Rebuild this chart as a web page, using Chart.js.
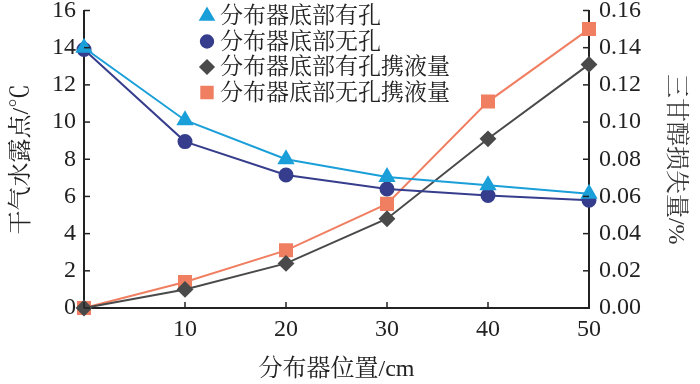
<!DOCTYPE html>
<html>
<head>
<meta charset="utf-8">
<script src="https://cdn.jsdelivr.net/npm/chart.js@4.4.0/dist/chart.umd.min.js"></script>
<style>
  html, body { margin: 0; padding: 0; background: #fff; }
  #wrap { width: 700px; height: 384px; }
</style>
</head>
<body>
<div id="wrap"><canvas id="chart"></canvas></div>
<script>
// 数据
const positions = [0, 10, 20, 30, 40, 50];
const dewHole = [14.0, 10.1, 8.0, 7.05, 6.6, 6.15];
const dewNoHole = [13.9, 8.95, 7.15, 6.4, 6.05, 5.8];
const lossHole = [0.000, 0.010, 0.024, 0.048, 0.091, 0.131];
const lossNoHole = [0.000, 0.014, 0.031, 0.056, 0.111, 0.150];
const seriesNames = ['分布器底部有孔', '分布器底部无孔', '分布器底部有孔携液量', '分布器底部无孔携液量'];

const FONT = '"Liberation Serif", "Noto Serif CJK SC", serif';
const TEXT = '#222';

function pts(arr) {
    return positions.map((x, i) => ({ x: x, y: arr[i] }));
}

// 向内的刻度线
const innerTicks = {
    id: 'innerTicks',
    afterDraw(chart) {
        const ctx = chart.ctx;
        const len = 6;
        ctx.save();
        ctx.strokeStyle = TEXT;
        ctx.lineWidth = 1.5;
        ['x', 'y', 'y1'].forEach(id => {
            const s = chart.scales[id];
            s.ticks.forEach(t => {
                const p = s.getPixelForValue(t.value);
                ctx.beginPath();
                if (id === 'x') {
                    ctx.moveTo(p, s.top);
                    ctx.lineTo(p, s.top - len);
                } else if (id === 'y') {
                    ctx.moveTo(s.right, p);
                    ctx.lineTo(s.right + len, p);
                } else {
                    ctx.moveTo(s.left, p);
                    ctx.lineTo(s.left - len, p);
                }
                ctx.stroke();
            });
        });
        ctx.restore();
    }
};

// 图例（竖排，放在图内上方）
const sideLegend = {
    id: 'sideLegend',
    afterDraw(chart) {
        const ctx = chart.ctx;
        const x0 = 207, y0 = 16, gap = 25.5;
        ctx.save();
        ctx.font = '23px ' + FONT;
        ctx.textBaseline = 'middle';
        chart.data.datasets.forEach((ds, i) => {
            const y = y0 + i * gap;
            ctx.fillStyle = ds.backgroundColor;
            ctx.strokeStyle = ds.backgroundColor;
            Chart.helpers.drawPoint(ctx, {
                pointStyle: ds.pointStyle, radius: ds.pointRadius * 0.95, borderWidth: 1
            }, x0, y);
            ctx.fillStyle = TEXT;
            ctx.fillText(ds.label, x0 + 13, y + 1);
        });
        ctx.restore();
    }
};

new Chart(document.getElementById('chart'), {
    type: 'line',
    data: {
        datasets: [
            {
                label: seriesNames[0], data: pts(dewHole), yAxisID: 'y',
                borderColor: '#1a9fd9', backgroundColor: '#1a9fd9',
                pointStyle: 'triangle', pointRadius: 8, borderWidth: 2
            },
            {
                label: seriesNames[1], data: pts(dewNoHole), yAxisID: 'y',
                borderColor: '#353d8c', backgroundColor: '#353d8c',
                pointStyle: 'circle', pointRadius: 6.5, borderWidth: 2
            },
            {
                label: seriesNames[2], data: pts(lossHole), yAxisID: 'y1',
                borderColor: '#4a4a4a', backgroundColor: '#4a4a4a',
                pointStyle: 'rectRot', pointRadius: 7, borderWidth: 2
            },
            {
                label: seriesNames[3], data: pts(lossNoHole), yAxisID: 'y1',
                borderColor: '#f07f62', backgroundColor: '#f07f62',
                pointStyle: 'rect', pointRadius: 8.5, borderWidth: 2
            }
        ]
    },
    options: {
        responsive: true,
        maintainAspectRatio: false,
        animation: false,
        clip: false,
        layout: { padding: { top: 6, left: 0, right: 0, bottom: 0 } },
        elements: { line: { tension: 0 }, point: { borderWidth: 1 } },
        plugins: {
            legend: { display: false },
            tooltip: { enabled: false }
        },
        scales: {
            x: {
                type: 'linear', min: 0, max: 50,
                grid: { display: false, drawTicks: false },
                border: { color: TEXT, width: 2 },
                ticks: {
                    stepSize: 10, padding: 7, color: TEXT,
                    font: { family: FONT, size: 24 },
                    maxRotation: 0,
                    callback: v => (v === 0 ? '' : v)
                },
                title: {
                    display: true, text: '分布器位置/cm', color: TEXT,
                    font: { family: FONT, size: 24 }, padding: { top: 0, bottom: 0 }
                },
                afterFit: s => { s.height = 76; s.paddingLeft = 0; s.paddingRight = 0; }
            },
            y: {
                position: 'left', min: 0, max: 16,
                grid: { display: false, drawTicks: false },
                border: { color: TEXT, width: 2 },
                ticks: {
                    stepSize: 2, padding: 8, color: TEXT,
                    font: { family: FONT, size: 24 }
                },
                title: {
                    display: true, text: '干气水露点/℃', color: TEXT,
                    font: { family: FONT, size: 24 }, padding: { top: 7, bottom: 0 }
                },
                afterFit: s => { s.width = 84; s.paddingTop = 0; s.paddingBottom = 0; }
            },
            y1: {
                position: 'right', min: 0, max: 0.16,
                grid: { display: false, drawTicks: false },
                border: { color: TEXT, width: 2 },
                ticks: {
                    stepSize: 0.02, padding: 10, color: TEXT,
                    font: { family: FONT, size: 24 },
                    callback: v => v.toFixed(2)
                },
                title: {
                    display: true, text: '三甘醇损失量/%', color: '#333',
                    font: { family: FONT, size: 24 }, padding: { top: 10, bottom: 0 }
                },
                afterFit: s => { s.width = 111; s.paddingTop = 0; s.paddingBottom = 0; }
            }
        }
    },
    plugins: [innerTicks, sideLegend]
});
</script>
</body>
</html>
